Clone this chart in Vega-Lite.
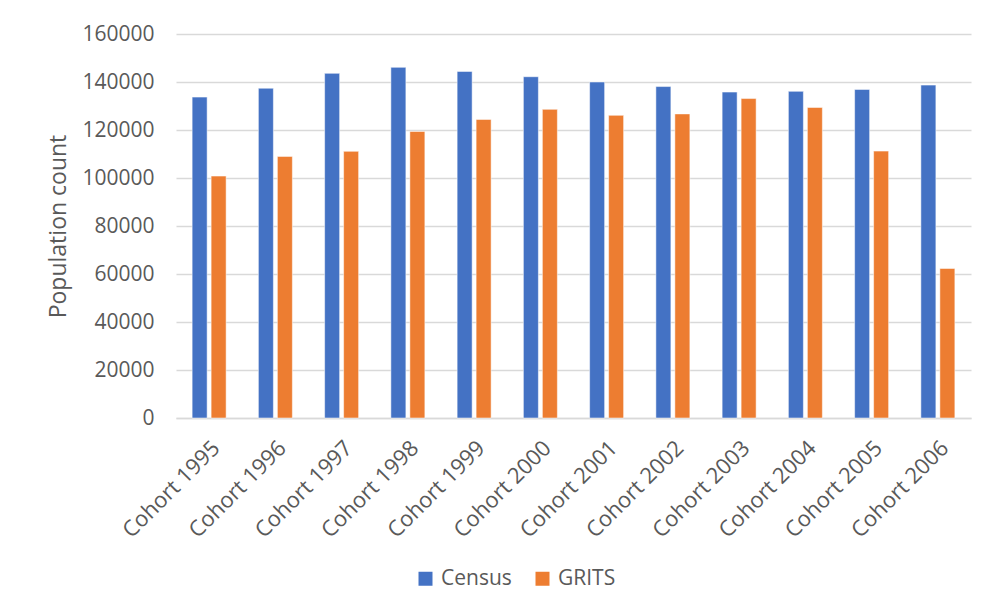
{
  "$schema": "https://vega.github.io/schema/vega-lite/v6.json",
  "width": 795,
  "height": 384,
  "autosize": {"type": "none"},
  "padding": {"left": 176, "top": 34, "right": 19, "bottom": 198},
  "background": "white",
  "config": {
    "view": {"stroke": null},
    "font": "Open Sans"
  },
  "data": {
    "values": [
      {"cohort": "Cohort 1995", "source": "Census", "count": 133700},
      {"cohort": "Cohort 1995", "source": "GRITS", "count": 100800},
      {"cohort": "Cohort 1996", "source": "Census", "count": 137400},
      {"cohort": "Cohort 1996", "source": "GRITS", "count": 109000},
      {"cohort": "Cohort 1997", "source": "Census", "count": 143600},
      {"cohort": "Cohort 1997", "source": "GRITS", "count": 111100},
      {"cohort": "Cohort 1998", "source": "Census", "count": 146100},
      {"cohort": "Cohort 1998", "source": "GRITS", "count": 119400},
      {"cohort": "Cohort 1999", "source": "Census", "count": 144400},
      {"cohort": "Cohort 1999", "source": "GRITS", "count": 124400},
      {"cohort": "Cohort 2000", "source": "Census", "count": 142200},
      {"cohort": "Cohort 2000", "source": "GRITS", "count": 128600},
      {"cohort": "Cohort 2001", "source": "Census", "count": 140000},
      {"cohort": "Cohort 2001", "source": "GRITS", "count": 126100},
      {"cohort": "Cohort 2002", "source": "Census", "count": 138100},
      {"cohort": "Cohort 2002", "source": "GRITS", "count": 126700},
      {"cohort": "Cohort 2003", "source": "Census", "count": 135800},
      {"cohort": "Cohort 2003", "source": "GRITS", "count": 133100},
      {"cohort": "Cohort 2004", "source": "Census", "count": 136100},
      {"cohort": "Cohort 2004", "source": "GRITS", "count": 129400},
      {"cohort": "Cohort 2005", "source": "Census", "count": 136900},
      {"cohort": "Cohort 2005", "source": "GRITS", "count": 111200},
      {"cohort": "Cohort 2006", "source": "Census", "count": 138700},
      {"cohort": "Cohort 2006", "source": "GRITS", "count": 62300}
    ]
  },
  "mark": {"type": "bar", "stroke": "white", "strokeOpacity": 0.5, "strokeWidth": 1},
  "encoding": {
    "x": {
      "field": "cohort",
      "type": "nominal",
      "sort": null,
      "scale": {"paddingInner": 0.487, "paddingOuter": 0.2435},
      "axis": {
        "title": null,
        "labelAngle": -45,
        "labelAlign": "right",
        "labelBaseline": "top",
        "labelPadding": 19,
        "labelFontSize": 22,
        "labelColor": "#595959",
        "ticks": false,
        "domainColor": "#d9d9d9",
        "domainWidth": 1.5,
        "labelOverlap": false
      }
    },
    "xOffset": {
      "field": "source",
      "type": "nominal",
      "scale": {"domain": ["Census", "GRITS"], "paddingInner": 0.21, "paddingOuter": 0}
    },
    "y": {
      "field": "count",
      "type": "quantitative",
      "scale": {"domain": [0, 160000], "nice": false},
      "axis": {
        "title": "Population count",
        "titleFontSize": 23,
        "titleFontWeight": "normal",
        "titleColor": "#595959",
        "titlePadding": 11,
        "values": [0, 20000, 40000, 60000, 80000, 100000, 120000, 140000, 160000],
        "format": "d",
        "labelFontSize": 21,
        "labelColor": "#595959",
        "labelPadding": 22,
        "ticks": false,
        "domain": false,
        "gridColor": "#d9d9d9",
        "gridWidth": 1.5
      }
    },
    "color": {
      "field": "source",
      "type": "nominal",
      "scale": {"domain": ["Census", "GRITS"], "range": ["#4472C4", "#ED7D31"]},
      "legend": {
        "title": null,
        "orient": "none",
        "direction": "horizontal",
        "legendX": 239,
        "legendY": 534,
        "symbolType": "square",
        "symbolSize": 196,
        "symbolStrokeWidth": 0,
        "labelFontSize": 21,
        "labelColor": "#595959",
        "labelOffset": 5,
        "columnPadding": 20,
        "padding": 0
      }
    }
  }
}
